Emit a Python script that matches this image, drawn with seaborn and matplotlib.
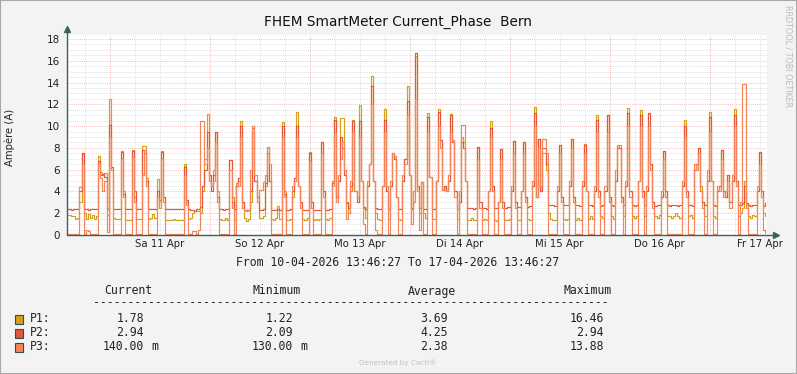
import numpy as np
import pandas as pd
import matplotlib
matplotlib.use("Agg")
import matplotlib.pyplot as plt
from matplotlib.patches import Rectangle
import seaborn as sns

# --- Daten (30-Minuten-Werte, 10.04.2026 13:46:27 bis 17.04.2026 13:46:27) ---
start = "2026-04-10 13:46:27"
end = "2026-04-17 13:46:27"

p1 = [
    1.8, 1.8, 1.7, 1.7, 1.5, 1.6, 3.0, 7.4, 2.0, 1.5, 1.9, 1.6, 1.8, 1.5, 1.7, 7.3, 5.8, 5.5, 5.7, 1.8, 12.5, 6.0, 1.6, 1.5,
    1.5, 1.5, 7.7, 4.0, 1.4, 1.4, 1.4, 7.8, 3.5, 1.5, 1.5, 1.5, 8.2, 8.2, 5.2, 1.5, 1.6, 1.9, 1.6, 5.1, 3.0, 7.7, 3.5, 1.4,
    1.4, 1.4, 1.4, 1.5, 1.4, 1.4, 1.4, 1.4, 6.5, 3.0, 1.5, 1.6, 2.0, 2.2, 2.2, 2.2, 2.0, 4.0, 7.0, 11.1, 5.0, 4.5, 6.0, 9.5,
    4.0, 1.5, 1.4, 1.4, 1.6, 1.4, 6.9, 3.5, 1.4, 4.8, 5.0, 10.5, 3.0, 1.6, 1.3, 1.5, 3.0, 9.5, 5.0, 3.5, 1.6, 1.6, 1.7, 4.5,
    8.1, 5.0, 1.5, 1.4, 1.6, 2.7, 1.5, 10.4, 4.0, 1.4, 1.4, 1.5, 3.5, 5.0, 11.3, 4.5, 3.0, 1.5, 1.4, 1.6, 7.6, 3.0, 1.4, 1.5,
    1.4, 1.5, 8.5, 4.0, 1.5, 1.4, 1.6, 5.0, 10.8, 3.5, 5.0, 10.7, 10.7, 6.0, 3.0, 2.0, 4.0, 10.6, 4.0, 3.5, 11.9, 5.0, 2.5, 1.6,
    4.5, 6.5, 14.6, 5.0, 2.0, 1.5, 1.4, 4.5, 11.6, 4.0, 1.5, 4.5, 7.5, 7.0, 3.5, 1.5, 1.4, 5.0, 7.0, 13.7, 5.5, 2.5, 3.0, 16.46,
    4.0, 2.0, 4.9, 2.0, 1.6, 11.2, 5.3, 1.5, 1.5, 5.0, 11.6, 8.7, 4.1, 4.5, 4.0, 5.0, 11.1, 8.7, 4.0, 1.5, 3.0, 9.0, 8.5, 5.0,
    1.4, 1.4, 1.6, 1.4, 1.4, 8.1, 3.0, 1.4, 1.5, 1.4, 4.0, 10.5, 4.5, 1.4, 1.3, 3.0, 7.9, 3.0, 1.4, 1.4, 1.5, 4.0, 8.6, 3.0,
    1.4, 1.4, 4.0, 8.5, 3.5, 1.5, 1.4, 4.5, 11.8, 3.5, 8.8, 4.0, 7.5, 7.5, 6.0, 2.0, 1.5, 1.4, 1.4, 4.0, 8.3, 3.5, 1.5, 1.4,
    1.5, 4.5, 8.8, 3.5, 1.4, 1.6, 1.4, 4.5, 8.4, 4.0, 1.5, 1.7, 1.5, 4.0, 11.0, 4.0, 1.7, 1.6, 4.0, 11.0, 3.5, 1.7, 1.5, 5.0,
    8.3, 8.0, 3.5, 1.7, 4.5, 11.7, 4.0, 1.7, 1.6, 1.7, 5.0, 11.5, 4.0, 1.7, 4.0, 11.2, 6.5, 3.0, 1.7, 1.6, 1.8, 3.5, 7.7, 4.0,
    1.7, 1.7, 1.6, 1.7, 2.0, 1.7, 1.6, 4.5, 10.6, 4.0, 1.7, 1.8, 1.6, 6.0, 6.5, 8.0, 4.5, 3.0, 1.7, 5.0, 11.3, 5.0, 1.7, 1.6,
    4.0, 4.5, 7.8, 4.0, 3.5, 5.5, 3.0, 5.0, 11.6, 5.0, 1.7, 2.0, 2.5, 5.0, 2.8, 1.7, 1.6, 1.8, 1.7, 4.0, 7.6, 4.0, 2.0, 1.78,
]

p2 = [
    2.4, 2.4, 2.3, 2.4, 2.4, 2.4, 4.0, 7.5, 2.4, 2.4, 2.3, 2.4, 2.4, 2.4, 2.4, 6.8, 5.5, 5.6, 5.3, 2.4, 10.1, 6.2, 2.4, 2.4,
    2.4, 2.4, 7.6, 3.8, 2.4, 2.4, 2.4, 7.7, 4.0, 2.4, 2.4, 2.4, 7.8, 7.5, 5.0, 2.4, 2.4, 2.4, 2.4, 4.0, 3.2, 7.6, 3.5, 2.4,
    2.4, 2.4, 2.4, 2.4, 2.4, 2.4, 2.4, 2.4, 6.2, 3.2, 2.4, 2.3, 2.3, 2.2, 2.4, 2.4, 2.6, 4.5, 6.0, 9.5, 5.5, 4.0, 5.5, 9.5,
    3.5, 2.4, 2.4, 2.3, 2.4, 2.4, 6.9, 3.0, 2.4, 4.5, 5.2, 10.0, 3.0, 2.3, 2.3, 2.3, 4.0, 9.8, 5.0, 3.5, 2.3, 2.3, 2.4, 4.8,
    7.5, 5.0, 2.3, 2.3, 2.3, 2.4, 2.3, 10.0, 3.8, 2.3, 2.3, 2.4, 4.0, 5.2, 10.0, 4.5, 3.0, 2.3, 2.3, 2.3, 7.5, 3.0, 2.3, 2.3,
    2.3, 2.3, 8.5, 4.0, 2.3, 2.3, 2.4, 4.8, 10.6, 3.5, 5.0, 9.0, 8.0, 5.5, 2.9, 2.5, 4.5, 10.5, 4.0, 3.0, 10.5, 5.0, 2.6, 2.4,
    4.5, 6.5, 13.7, 5.0, 2.5, 2.4, 2.4, 4.5, 10.6, 4.0, 2.4, 4.5, 7.5, 7.0, 3.5, 2.4, 2.4, 5.0, 7.0, 12.3, 5.5, 2.4, 4.0, 16.7,
    4.5, 2.5, 4.9, 2.4, 2.4, 10.8, 5.3, 2.4, 2.4, 5.0, 11.3, 8.7, 4.1, 4.5, 4.0, 5.0, 11.0, 8.5, 4.0, 2.4, 3.0, 8.5, 8.0, 5.0,
    2.5, 2.5, 2.5, 2.4, 2.5, 8.1, 3.0, 2.5, 2.5, 2.4, 4.0, 9.8, 4.5, 2.5, 2.5, 3.0, 7.9, 3.0, 2.5, 2.6, 2.6, 4.0, 8.6, 3.0,
    2.6, 2.6, 4.0, 8.5, 3.5, 2.6, 2.7, 4.5, 11.2, 3.5, 8.8, 4.0, 8.0, 8.0, 6.5, 2.8, 2.8, 2.8, 2.7, 4.0, 8.3, 3.5, 2.8, 2.8,
    2.8, 4.5, 8.8, 3.5, 2.8, 2.8, 2.7, 4.5, 8.3, 4.0, 2.8, 2.8, 2.7, 4.0, 10.6, 4.0, 2.7, 2.8, 4.0, 11.0, 3.5, 2.8, 2.7, 5.0,
    8.0, 8.0, 3.5, 2.8, 4.5, 11.2, 4.0, 2.8, 2.7, 2.8, 5.0, 11.0, 4.0, 2.8, 4.0, 11.2, 6.5, 3.0, 2.7, 2.8, 2.8, 3.5, 7.7, 4.0,
    2.8, 2.7, 2.8, 2.8, 2.8, 2.7, 2.8, 4.5, 10.0, 4.0, 2.8, 2.8, 2.7, 6.0, 6.5, 8.0, 4.0, 3.0, 2.8, 5.0, 10.8, 5.0, 2.8, 2.7,
    4.0, 4.5, 7.8, 4.0, 3.5, 5.5, 3.0, 5.0, 11.0, 5.0, 2.8, 2.8, 2.9, 4.5, 2.9, 2.8, 2.7, 2.8, 2.8, 4.0, 7.6, 4.0, 2.7, 2.94,
]

p3 = [
    0.1, 0.1, 0.1, 0.1, 0.1, 0.1, 4.4, 6.5, 0.1, 0.5, 0.4, 0.1, 0.1, 0.1, 0.1, 6.5, 5.2, 4.0, 5.0, 0.3, 9.0, 6.0, 0.1, 0.1,
    0.1, 0.1, 7.0, 3.5, 0.1, 0.1, 0.1, 7.2, 3.0, 0.1, 0.1, 0.1, 5.5, 7.8, 4.5, 0.1, 0.1, 0.1, 0.1, 3.5, 2.5, 7.0, 3.0, 0.1,
    0.1, 0.1, 0.1, 0.1, 0.1, 0.1, 0.1, 0.1, 5.5, 2.8, 0.1, 0.1, 0.4, 0.4, 0.1, 0.5, 10.5, 10.5, 6.5, 8.0, 5.0, 4.5, 5.0, 8.5,
    3.0, 0.1, 0.1, 0.1, 0.1, 0.1, 6.0, 2.5, 0.1, 4.8, 4.5, 9.0, 2.5, 2.3, 2.2, 2.3, 6.0, 10.0, 5.5, 3.0, 4.1, 4.1, 4.9, 5.5,
    8.1, 6.5, 0.1, 0.1, 0.1, 0.1, 0.1, 9.0, 3.5, 0.1, 0.1, 0.1, 4.5, 5.0, 9.0, 4.5, 2.5, 0.1, 0.1, 0.1, 6.8, 2.5, 0.1, 0.1,
    0.1, 0.1, 7.5, 3.5, 0.1, 0.1, 0.1, 4.5, 9.5, 3.0, 5.5, 7.0, 8.5, 6.0, 1.5, 2.0, 5.0, 9.5, 4.0, 3.5, 9.0, 5.0, 1.0, 0.1,
    5.0, 6.5, 12.0, 5.0, 0.5, 0.1, 0.1, 4.5, 9.5, 4.5, 0.1, 5.0, 7.5, 7.3, 3.5, 0.1, 0.1, 5.5, 6.5, 11.0, 5.5, 1.0, 4.0, 12.5,
    4.0, 0.5, 4.9, 0.1, 0.1, 9.5, 5.3, 0.1, 0.1, 5.0, 10.0, 8.0, 4.1, 4.1, 4.0, 5.5, 9.5, 8.7, 3.5, 0.1, 4.0, 10.1, 10.1, 5.0,
    0.1, 0.1, 0.1, 0.1, 0.1, 7.0, 2.5, 0.1, 0.1, 0.1, 4.0, 9.0, 4.0, 0.1, 0.1, 3.0, 7.0, 2.5, 0.1, 0.1, 0.1, 4.5, 7.5, 2.5,
    0.1, 0.1, 4.0, 7.5, 3.0, 0.1, 0.1, 5.0, 10.0, 3.5, 8.0, 4.5, 8.8, 8.8, 7.5, 0.1, 0.1, 0.1, 0.1, 4.5, 7.5, 3.0, 0.1, 0.1,
    0.1, 5.0, 8.0, 3.0, 0.1, 0.1, 0.1, 5.0, 7.5, 4.0, 0.1, 0.1, 0.1, 4.5, 9.5, 3.5, 0.1, 0.1, 4.5, 9.5, 3.0, 0.1, 0.1, 6.0,
    8.3, 8.3, 3.0, 0.1, 5.0, 10.0, 3.5, 0.1, 0.1, 0.1, 5.0, 10.0, 3.5, 0.1, 4.5, 10.0, 6.0, 2.5, 0.1, 0.1, 0.1, 4.0, 7.0, 3.5,
    0.1, 0.1, 0.1, 0.1, 0.1, 0.1, 0.1, 5.0, 9.0, 3.5, 0.1, 0.1, 0.1, 6.5, 6.0, 7.5, 4.0, 2.5, 0.1, 6.0, 9.5, 5.0, 0.1, 0.1,
    4.5, 4.0, 7.0, 3.5, 4.0, 5.0, 2.5, 5.5, 10.0, 4.5, 0.1, 3.0, 13.88, 13.88, 2.5, 0.1, 0.1, 0.1, 0.1, 4.5, 6.5, 3.5, 0.5, 0.14,
]

phases = ["P1", "P2", "P3"]
colors = ["#D6A01A", "#E5563A", "#F5845A"]

day_labels = ["Sa 11 Apr", "So 12 Apr", "Mo 13 Apr", "Di 14 Apr", "Mi 15 Apr", "Do 16 Apr", "Fr 17 Apr"]

# Legende (wie von rrdtool ausgegeben)
leg_current = [("1.78", ""), ("2.94", ""), ("140.00", "m")]
leg_minimum = [("1.22", ""), ("2.09", ""), ("130.00", "m")]
leg_average = [("3.69", ""), ("4.25", ""), ("2.38", "")]
leg_maximum = [("16.46", ""), ("2.94", ""), ("13.88", "")]

assert len(p1) == len(p2) == len(p3) == 336

t = pd.date_range(start, periods=len(p1), freq="30min")
df = pd.DataFrame({
    "zeit": np.concatenate([t, t, t]),
    "wert": p1 + p2 + p3,
    "phase": ["P1"] * len(p1) + ["P2"] * len(p2) + ["P3"] * len(p3),
})

sns.set_theme(style="white")
plt.rcParams["font.family"] = ["DejaVu Sans"]

W, H = 797, 374
fig = plt.figure(figsize=(W / 100, H / 100), dpi=100)
fig.patch.set_facecolor("#F3F3F3")
fig.patches.append(Rectangle((0, 0), 1, 1, transform=fig.transFigure, fill=False,
                             edgecolor="#A8A8A8", linewidth=1.5))

ax = fig.add_axes([67 / W, 1 - 235 / H, 700 / W, 200 / H])
ax.set_facecolor("white")

t0, t1 = pd.Timestamp(start), pd.Timestamp(end)
ymax = 200 / (196 / 18)

# Gitter
for yv in np.arange(0.5, 18.01, 0.5):
    if abs(yv % 2) < 1e-9:
        ax.axhline(yv, color="#F2A6A6", lw=0.6, ls=(0, (1, 1.5)), zorder=0)
    else:
        ax.axhline(yv, color="#D2D2D2", lw=0.55, ls=(0, (1, 1.5)), zorder=0)
for tv in pd.date_range("2026-04-10 18:00", "2026-04-17 12:00", freq="6h"):
    if tv.hour == 0:
        ax.axvline(tv, color="#F2A6A6", lw=0.6, ls=(0, (1, 1.5)), zorder=0)
    else:
        ax.axvline(tv, color="#D2D2D2", lw=0.55, ls=(0, (1, 1.5)), zorder=0)

sns.lineplot(data=df, x="zeit", y="wert", hue="phase", hue_order=phases,
             palette=colors, drawstyle="steps-post", linewidth=0.85,
             legend=False, ax=ax, zorder=3)

ax.set_xlim(t0, t1)
ax.set_ylim(0, ymax)
ax.set_xlabel("")
ax.set_ylabel("")
for s in ax.spines.values():
    s.set_visible(False)

# Achsen mit Pfeilen
axis_col = "#3F5F5F"
ax.plot([0, 0], [0, 1.02], color=axis_col, lw=1.0, transform=ax.transAxes, clip_on=False, zorder=5)
ax.plot([0, 1.011], [0, 0], color=axis_col, lw=1.0, transform=ax.transAxes, clip_on=False, zorder=5)
ax.plot([0], [1.03], marker="^", ms=4.5, color=axis_col, transform=ax.transAxes, clip_on=False, zorder=5)
ax.plot([1.013], [0], marker=">", ms=4.5, color=axis_col, transform=ax.transAxes, clip_on=False, zorder=5)

ax.set_yticks(np.arange(0, 19, 2))
ax.set_yticklabels([str(v) for v in range(0, 19, 2)], fontsize=7.5, color="#222222")
noon = [pd.Timestamp("2026-04-11 12:00") + pd.Timedelta(days=k) for k in range(len(day_labels))]
ax.set_xticks(noon)
ax.set_xticklabels(day_labels, fontsize=7.3, color="#222222")
ax.tick_params(axis="both", length=0)
ax.tick_params(axis="y", pad=5)
ax.tick_params(axis="x", pad=3)

# Texte
def px(x, y):
    return x / W, 1 - y / H

fig.text(*px(398, 22), "FHEM SmartMeter Current_Phase  Bern", ha="center", va="center",
         fontsize=9.8, color="#111111")
fig.text(*px(10, 137), "Ampère (A)", ha="center", va="center", rotation=90,
         fontsize=7.3, color="#222222")
fig.text(*px(788, 5), "RRDTOOL / TOBI OETIKER", ha="center", va="top", rotation=270,
         fontsize=5.8, color="#BBBBBB")

mono = "DejaVu Sans Mono"
fs = 8.3
fig.text(*px(398, 262), "From 10-04-2026 13:46:27 To 17-04-2026 13:46:27", ha="center",
         va="center", family=mono, fontsize=fs, color="#222222")

headers = ["Current", "Minimum", "Average", "Maximum"]
col_end = [144, 293, 448, 604]
for h, xe in zip(headers, col_end):
    fig.text(*px(xe + 8, 291), h, ha="right", va="center", family=mono, fontsize=fs, color="#222222")
fig.text(*px(93, 303), "-" * 75, ha="left", va="center", family=mono, fontsize=fs, color="#222222")

rows_y = [319, 333, 347]
for i, (name, col) in enumerate(zip(phases, colors)):
    y = rows_y[i]
    fig.patches.append(Rectangle(px(15, y + 4.5), 8 / W, 9 / H, transform=fig.transFigure,
                                 facecolor=col, edgecolor="#2F4F4F", linewidth=0.8))
    fig.text(*px(30, y), name + ":", ha="left", va="center", family=mono, fontsize=fs, color="#222222")
    for cells, xe in zip([leg_current, leg_minimum, leg_average, leg_maximum], col_end):
        num, unit = cells[i]
        fig.text(*px(xe, y), num, ha="right", va="center", family=mono, fontsize=fs, color="#222222")
        if unit:
            fig.text(*px(xe + 7, y), unit, ha="left", va="center", family=mono, fontsize=fs, color="#222222")

fig.text(*px(398, 363), "Generated by Cacti®", ha="center", va="center", fontsize=5.2, color="#C0C0C0")

fig.savefig("out.png", dpi=100, facecolor=fig.get_facecolor())
